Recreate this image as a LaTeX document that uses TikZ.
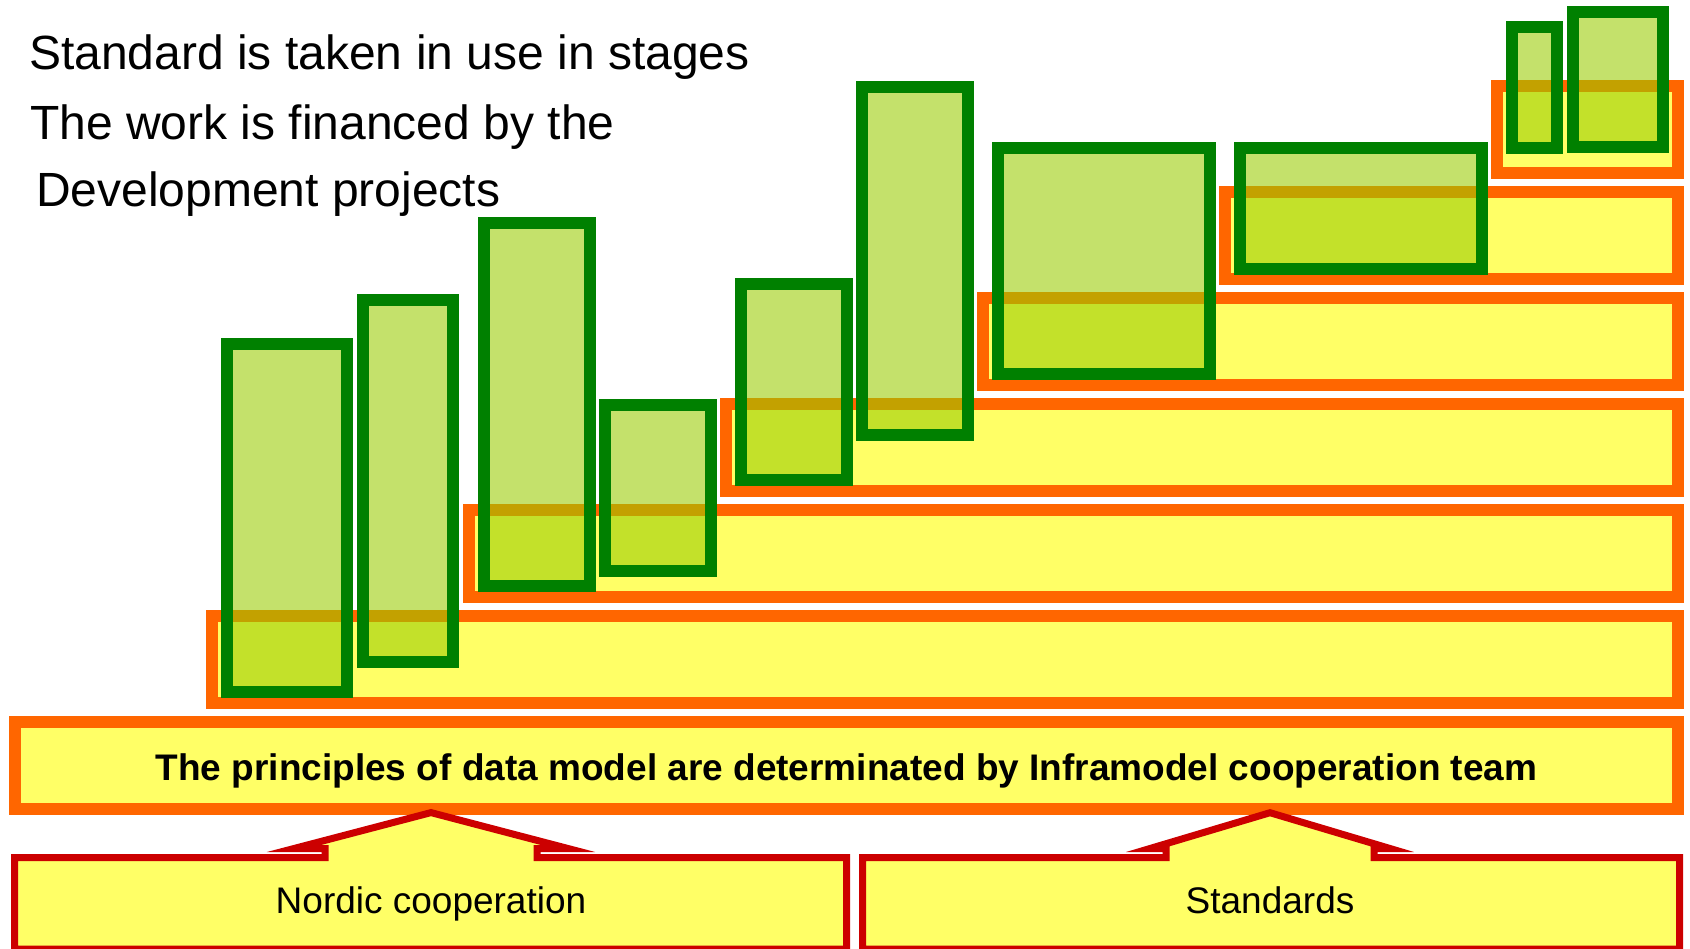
\documentclass[tikz,border=0pt]{standalone}
\usepackage{fontspec}
\setmainfont{Liberation Sans}
\definecolor{stepyellow}{HTML}{FFFF66}
\definecolor{steporange}{HTML}{FF6600}
\definecolor{projgreen}{HTML}{008000}
\definecolor{projlime}{HTML}{99CC00}
\definecolor{sourcered}{HTML}{CC0000}

\begin{document}
\begin{tikzpicture}[x=1pt,y=-1pt,
  stepbox/.style={rectangle,draw=steporange,fill=stepyellow,line width=12pt,
    inner sep=0pt,outer sep=0pt,minimum height=87pt},
  projbox/.style={rectangle,draw=projgreen,fill=projlime,fill opacity=0.58,
    line width=12pt,inner sep=0pt,outer sep=0pt},
  source/.style={draw=sourcered,fill=stepyellow,line width=7pt},
  big text/.style={anchor=base west,inner sep=0pt,font=\fontsize{48}{58}\selectfont}]

  \useasboundingbox (0,0) rectangle (1690,949);

  % the stages
  \node[stepbox,minimum width=1663pt] (base) at (846.5,765.5) {};
  \node[stepbox,minimum width=1466pt] (s1) at (945,659.5) {};
  \node[stepbox,minimum width=1209pt] (s2) at (1073.5,553.5) {};
  \node[stepbox,minimum width=952pt] (s3) at (1202,447.5) {};
  \node[stepbox,minimum width=695pt] (s4) at (1330.5,341.5) {};
  \node[stepbox,minimum width=453pt] (s5) at (1451.5,235.5) {};
  \node[stepbox,minimum width=181pt] (s6) at (1587.5,129.5) {};

  % development projects
  \node[projbox,minimum width=120pt,minimum height=348pt] (p1) at (287,518) {};
  \node[projbox,minimum width=90pt,minimum height=362pt] (p2) at (408,481) {};
  \node[projbox,minimum width=106pt,minimum height=363pt] (p3) at (537,404.5) {};
  \node[projbox,minimum width=106pt,minimum height=166pt] (p4) at (658,488) {};
  \node[projbox,minimum width=106pt,minimum height=196pt] (p5) at (794,382) {};
  \node[projbox,minimum width=106pt,minimum height=348pt] (p6) at (915,261) {};
  \node[projbox,minimum width=212pt,minimum height=226pt] (p7) at (1104,261) {};
  \node[projbox,minimum width=242pt,minimum height=121pt] (p8) at (1361,208.5) {};
  \node[projbox,minimum width=45pt,minimum height=121pt] (p9) at (1534.5,87.5) {};
  \node[projbox,minimum width=90pt,minimum height=135pt] (p10) at (1618,79.5) {};

  % sources below the base
  \draw[source] (14.5,857.5) -- (325,857.5) -- (325,848.5) -- (294,848.5)
    -- (431,812.6) -- (568,848.5) -- (537,848.5) -- (537,857.5)
    -- (846.5,857.5) -- (846.5,949) -- (14.5,949) -- cycle;
  \draw[source] (862.5,857.5) -- (1166,857.5) -- (1166,848.5) -- (1150,848.5)
    -- (1270,812.7) -- (1390,848.5) -- (1374,848.5) -- (1374,857.5)
    -- (1679.5,857.5) -- (1679.5,949) -- (862.5,949) -- cycle;

  % texts
  \node[big text] (t1) at (29,70) {Standard is taken in use in stages};
  \node[big text] (t2) at (30,140) {The work is financed by the};
  \node[big text] (t3) at (36,207) {Development projects};
  \node[anchor=base,inner sep=0pt,font=\fontsize{37}{44}\selectfont\bfseries] (basetext)
    at (846.5,780) {The principles of data model are determinated by Inframodel cooperation team};
  \node[anchor=base,inner sep=0pt,font=\fontsize{37}{44}\selectfont] (nordic)
    at (431,913) {Nordic cooperation};
  \node[anchor=base,inner sep=0pt,font=\fontsize{37}{44}\selectfont] (standards)
    at (1270,913) {Standards};

\end{tikzpicture}
\end{document}
